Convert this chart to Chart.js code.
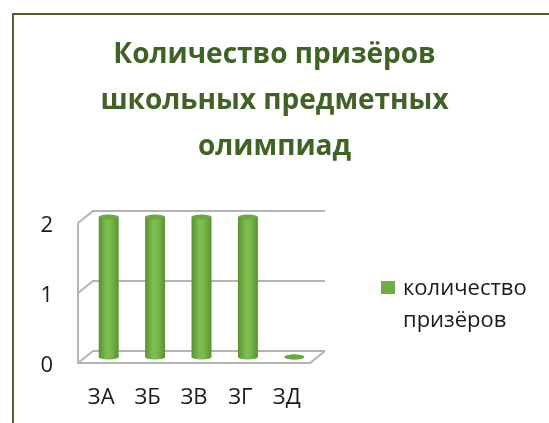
<!DOCTYPE html>
<html><head><meta charset="utf-8">
<style>
html,body{margin:0;padding:0;background:#fff;overflow:hidden;width:549px;height:423px}
#frame{position:absolute;left:12px;top:13px;width:600px;height:480px;border:2px solid #4f6228;box-sizing:border-box}
#wrap{position:absolute;left:0;top:0;width:549px;height:423px}
</style>
<script src="https://cdn.jsdelivr.net/npm/chart.js@4/dist/chart.umd.min.js"></script>
</head><body>
<div id="frame"></div>
<div id="wrap"><canvas id="c" width="549" height="423"></canvas></div>
<script>
const categories = ['ЗА', 'ЗБ', 'ЗВ', 'ЗГ', 'ЗД'];
const seriesLabel = 'количество призёров';
const values = [2, 2, 2, 2, 0];
const titleLines = ['Количество призёров', 'школьных предметных', 'олимпиад'];
const yTickValues = [0, 1, 2];

const FONT = "'Open Sans', 'Noto Sans', sans-serif";
const GREEN = '#70ad47';
const DX = 15, DY = -12, FRONT_DY = -3;

const wall3d = {
  id: 'wall3d',
  beforeDatasetsDraw(chart) {
    const {ctx, chartArea: a, scales: {x, y}} = chart;
    const L = a.left, R = a.right;
    ctx.save();
    ctx.strokeStyle = '#b4b4b4';
    ctx.lineWidth = 2;
    y.ticks.forEach(t => {
      const py = y.getPixelForValue(t.value) + FRONT_DY;
      ctx.beginPath();
      ctx.moveTo(L, py);
      ctx.lineTo(L + DX, py + DY);
      ctx.lineTo(R + DX, py + DY);
      ctx.stroke();
    });
    const top = y.getPixelForValue(y.max) + FRONT_DY;
    const bot = y.getPixelForValue(y.min) + FRONT_DY;
    ctx.beginPath();
    ctx.moveTo(L, top);
    ctx.lineTo(L, bot);
    ctx.lineTo(R, bot);
    ctx.lineTo(R + DX, bot + DY);
    ctx.stroke();
    ctx.restore();
  },
  afterDatasetsDraw(chart) {
    const {ctx} = chart;
    const meta = chart.getDatasetMeta(0);
    ctx.save();
    meta.data.forEach(el => {
      const cx = el.x + DX / 2;
      const rx = el.width / 2;
      const ry = 2.5;
      const topY = el.y + FRONT_DY + DY / 2;
      const baseY = el.base + FRONT_DY + DY / 2;
      const g = ctx.createLinearGradient(cx - rx, 0, cx + rx, 0);
      g.addColorStop(0, '#5a9133');
      g.addColorStop(0.4, '#7cbf4f');
      g.addColorStop(0.6, '#78bb4b');
      g.addColorStop(1, '#5a9133');
      ctx.fillStyle = g;
      ctx.beginPath();
      ctx.ellipse(cx, baseY, rx, ry, 0, 0, Math.PI * 2);
      ctx.fill();
      if (baseY - topY > 0.5) {
        ctx.fillRect(cx - rx, topY, rx * 2, baseY - topY);
      }
      ctx.fillStyle = '#6aa840';
      ctx.beginPath();
      ctx.ellipse(cx, topY, rx, ry, 0, 0, Math.PI * 2);
      ctx.fill();
    });
    ctx.restore();
  },
  afterDraw(chart) {
    const {ctx, chartArea: a} = chart;
    const ds = chart.data.datasets[0];
    const bx = a.right + 71, by = 281;
    ctx.save();
    ctx.fillStyle = GREEN;
    ctx.fillRect(bx, by, 14, 13);
    ctx.fillStyle = '#1a1a1a';
    ctx.font = "22px " + FONT;
    ctx.textBaseline = 'alphabetic';
    const words = ds.label.split(' ');
    ctx.fillText(words[0], bx + 22, by + 14);
    ctx.fillText(words.slice(1).join(' '), bx + 22, by + 46);
    ctx.restore();
  }
};

new Chart(document.getElementById('c'), {
  type: 'bar',
  data: {
    labels: categories,
    datasets: [{
      label: seriesLabel,
      data: values,
      backgroundColor: 'rgba(0,0,0,0)',
      borderWidth: 0,
      categoryPercentage: 1,
      barPercentage: 0.43
    }]
  },
  options: {
    responsive: false,
    animation: false,
    devicePixelRatio: 1,
    layout: {padding: {left: 0, right: 0, top: 0, bottom: 0}},
    plugins: {
      legend: {display: false},
      tooltip: {enabled: false},
      title: {
        display: true,
        text: titleLines,
        color: '#416225',
        font: {family: FONT, size: 28, weight: 'bold', lineHeight: 1.643},
        padding: {top: 32, bottom: 56}
      }
    },
    scales: {
      x: {
        grid: {display: false, drawTicks: false},
        border: {display: false},
        ticks: {color: '#1a1a1a', font: {family: FONT, size: 22}, padding: 19},
        afterFit(s) { s.height = 57; }
      },
      y: {
        min: 0, max: 2,
        afterBuildTicks(s) { s.ticks = yTickValues.map(v => ({value: v})); },
        grid: {display: false, drawTicks: false},
        border: {display: false},
        ticks: {color: '#1a1a1a', font: {family: FONT, size: 22}, padding: 25},
        afterFit(s) { s.width = 78; }
      },
      y2: {
        position: 'right',
        display: true,
        grid: {display: false, drawTicks: false},
        border: {display: false},
        ticks: {display: false},
        afterFit(s) { s.width = 239; }
      }
    }
  },
  plugins: [wall3d]
});
</script>
</body></html>
